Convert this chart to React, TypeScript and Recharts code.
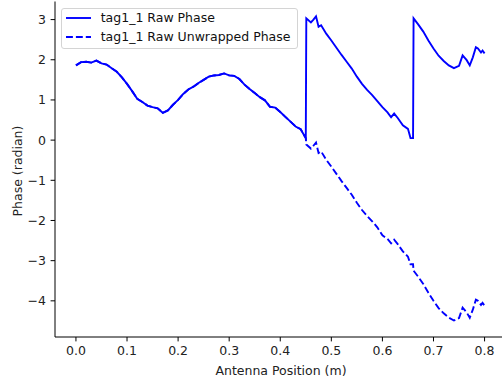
import { LineChart, Line, XAxis, YAxis, Legend, Label } from 'recharts'

// antenna position (m) along the track
const positions = [
  0.0, 0.01, 0.02, 0.03, 0.04, 0.05, 0.06, 0.07, 0.08, 0.09,
  0.1, 0.11, 0.12, 0.13, 0.14, 0.15, 0.16, 0.17, 0.18, 0.19,
  0.2, 0.21, 0.22, 0.23, 0.24, 0.25, 0.26, 0.27, 0.28, 0.29,
  0.3, 0.31, 0.32, 0.33, 0.34, 0.35, 0.36, 0.37, 0.38, 0.39,
  0.4, 0.41, 0.42, 0.43, 0.44, 0.45, 0.451, 0.46, 0.465, 0.47, 0.475, 0.48, 0.49,
  0.5, 0.51, 0.52, 0.53, 0.54, 0.55, 0.56, 0.57, 0.58, 0.59,
  0.6, 0.61, 0.617, 0.623, 0.63, 0.64, 0.65, 0.655, 0.66, 0.661, 0.67, 0.68, 0.69,
  0.7, 0.71, 0.72, 0.73, 0.74, 0.75, 0.757, 0.765, 0.771, 0.777, 0.783, 0.787, 0.793, 0.796, 0.8
]

const rawPhase = [
  1.86, 1.94, 1.95, 1.93, 1.98, 1.91, 1.88, 1.79, 1.7, 1.56,
  1.4, 1.22, 1.03, 0.95, 0.86, 0.82, 0.79, 0.68, 0.74, 0.88,
  1.0, 1.15, 1.26, 1.33, 1.42, 1.5, 1.58, 1.61, 1.62, 1.66,
  1.61, 1.6, 1.52, 1.38, 1.27, 1.17, 1.07, 0.99, 0.83, 0.81,
  0.7, 0.58, 0.46, 0.34, 0.27, 0.05, 3.03, 2.93, 3.0, 3.08, 2.82, 2.86, 2.65,
  2.48, 2.3, 2.12, 1.95, 1.78, 1.58, 1.4, 1.25, 1.12, 0.97,
  0.82, 0.69, 0.57, 0.66, 0.55, 0.37, 0.28, 0.05, 0.05, 3.03, 2.88, 2.7, 2.48,
  2.28, 2.1, 1.97, 1.86, 1.79, 1.85, 2.11, 1.99, 1.86, 2.06, 2.31, 2.28, 2.18, 2.23, 2.16
]

const unwrappedPhase = [
  1.86, 1.94, 1.95, 1.93, 1.98, 1.91, 1.88, 1.79, 1.7, 1.56,
  1.4, 1.22, 1.03, 0.95, 0.86, 0.82, 0.79, 0.68, 0.74, 0.88,
  1.0, 1.15, 1.26, 1.33, 1.42, 1.5, 1.58, 1.61, 1.62, 1.66,
  1.61, 1.6, 1.52, 1.38, 1.27, 1.17, 1.07, 0.99, 0.83, 0.81,
  0.7, 0.58, 0.46, 0.34, 0.27, 0.05, -0.11, -0.21, -0.14, -0.06, -0.32, -0.28, -0.49,
  -0.66, -0.84, -1.02, -1.19, -1.36, -1.56, -1.74, -1.89, -2.02, -2.17,
  -2.37, -2.46, -2.57, -2.48, -2.59, -2.77, -2.9, -3.09, -3.09, -3.25, -3.4, -3.58, -3.8,
  -4.0, -4.18, -4.31, -4.42, -4.49, -4.43, -4.17, -4.29, -4.42, -4.22, -3.97, -4.0, -4.1, -4.05, -4.12
]

const xTicks = [0, 0.1, 0.2, 0.3, 0.4, 0.5, 0.6, 0.7, 0.8]
const yTicks = [-4, -3, -2, -1, 0, 1, 2, 3]
const seriesNames = ['tag1_1 Raw Phase', 'tag1_1 Raw Unwrapped Phase']

const data = positions.map((x, i) => ({ x, raw: rawPhase[i], unwrapped: unwrappedPhase[i] }))

const FONT = 'DejaVu Sans, sans-serif'
const FONT_SIZE = 12.5
const BLUE = '#0000ff'
const DASH = '6.9 3'

function PhaseLegend() {
  return (
    <div
      style={{
        position: 'relative',
        width: 237,
        height: 41,
        boxSizing: 'border-box',
        border: '1px solid #d4d4d4',
        borderRadius: 3,
        background: 'rgba(255,255,255,0.8)',
        fontFamily: FONT,
        fontSize: FONT_SIZE,
        color: '#111'
      }}
    >
      {seriesNames.map((name, i) => (
        <div
          key={name}
          style={{ position: 'absolute', left: 3.7, top: i === 0 ? 1 : 20.6, height: 16, display: 'flex', alignItems: 'center', whiteSpace: 'nowrap' }}
        >
          <svg width={25} height={16} style={{ display: 'block' }}>
            <line x1={0} y1={8} x2={25} y2={8} stroke={BLUE} strokeWidth={1.9} strokeDasharray={i === 1 ? DASH : undefined} />
          </svg>
          <span style={{ marginLeft: 10, lineHeight: '16px' }}>{name}</span>
        </div>
      ))}
    </div>
  )
}

export default function App() {
  return (
    <div style={{ position: 'fixed', left: 0, top: 0, width: 502, height: 381, overflow: 'hidden', background: '#fff' }}>
      <LineChart width={507} height={381} data={data} margin={{ top: 1.5, right: 2, bottom: 0, left: 0 }}>
        <XAxis
          dataKey="x"
          type="number"
          domain={[-0.041, 0.84]}
          ticks={xTicks}
          allowDataOverflow
          tickFormatter={(v: number) => v.toFixed(1)}
          height={44}
          tickSize={4.4}
          tickMargin={4.4}
          stroke="#000"
          strokeWidth={1}
          tick={{ fontFamily: FONT, fontSize: FONT_SIZE, fill: '#222' }}
        >
          <Label
            content={() => (
              <text x={281} y={375} textAnchor="middle" fontFamily={FONT} fontSize={FONT_SIZE} fill="#222">
                Antenna Position (m)
              </text>
            )}
          />
        </XAxis>
        <XAxis xAxisId="top" orientation="top" type="number" domain={[-0.041, 0.84]} height={0} tick={false} tickLine={false} stroke="#000" strokeWidth={1} />
        <YAxis
          type="number"
          domain={[-4.9, 3.45]}
          ticks={yTicks}
          allowDataOverflow
          tickFormatter={(v: number) => (v < 0 ? '\u2212' + Math.abs(v) : String(v))}
          width={55}
          tickSize={4.4}
          tickMargin={4.6}
          stroke="#000"
          strokeWidth={1}
          tick={{ fontFamily: FONT, fontSize: FONT_SIZE, fill: '#222' }}
        >
          <Label
            content={() => (
              <text x={17} y={171} transform="rotate(-90 17 171)" textAnchor="middle" dominantBaseline="central" fontFamily={FONT} fontSize={FONT_SIZE} fill="#222">
                Phase (radian)
              </text>
            )}
          />
        </YAxis>
        <Legend
          layout="vertical"
          align="center"
          verticalAlign="middle"
          content={() => <PhaseLegend />}
          wrapperStyle={{ top: 7.7, left: 61, width: 237 }}
        />
        <Line
          type="linear"
          dataKey="raw"
          name={seriesNames[0]}
          stroke={BLUE}
          strokeWidth={1.9}
          dot={false}
          isAnimationActive={false}
        />
        <Line
          type="linear"
          dataKey="unwrapped"
          name={seriesNames[1]}
          stroke={BLUE}
          strokeWidth={1.9}
          strokeDasharray={DASH}
          dot={false}
          isAnimationActive={false}
        />
      </LineChart>
    </div>
  )
}
